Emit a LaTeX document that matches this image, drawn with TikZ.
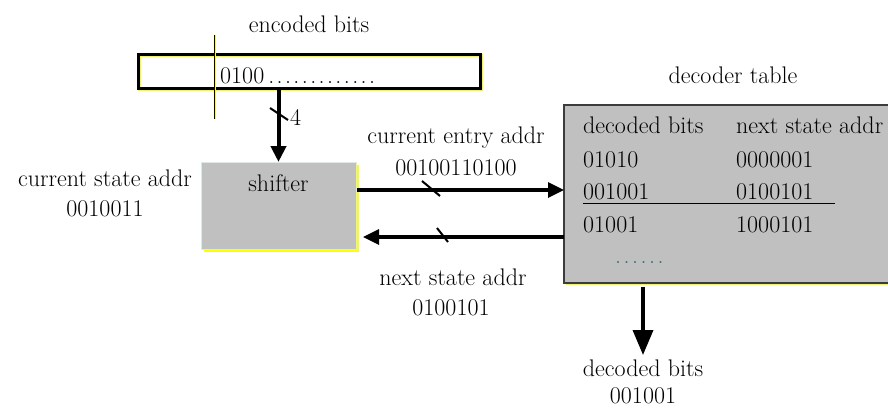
\documentclass[tikz,border=0pt]{standalone}
\usetikzlibrary{arrows.meta}

\definecolor{boxgray}{RGB}{192,192,192}
\definecolor{edgeyellow}{RGB}{255,255,0}
\definecolor{tableedge}{RGB}{60,60,60}
\definecolor{dotteal}{RGB}{40,110,130}

% a row of widely spaced dots
\newcommand{\spreaddots}[2]{\foreach \d in {1,...,#1}{.\hspace{#2}}}

\tikzset{
	lbl/.style={font=\rmfamily\fontsize{24}{29}\selectfont, inner sep=0pt, anchor=base},
	bus/.style={line width=3.3pt, -{Triangle[length=16pt,width=15pt]}},
	tick/.style={line width=2pt},
	yshadow/.style={preaction={fill=edgeyellow, transform canvas={shift={(#1,-#1)}}}},
}

\begin{document}
\begin{tikzpicture}[x=1pt,y=-1pt]
	\useasboundingbox (0,0) rectangle (888,407);

	% bit buffer with the read pointer
	\node[lbl] (enclbl) at (309,32) {encoded bits};
	\draw[edgeyellow, line width=3pt] (139,55) rectangle (481,89);
	\node[draw, line width=3pt, minimum width=342pt, minimum height=34pt, inner sep=0pt, outer sep=0pt] (buffer) at (309,71) {};
	\draw[edgeyellow, line width=1pt] (215.2,35)--(215.2,119);
	\draw[line width=1pt] (214,35)--(214,119);
	\node[lbl, anchor=base west] (bitstream) at (220,83) {0100\hspace{4pt}\spreaddots{13}{2.4pt}};

	% shifter
	\node[fill=boxgray, draw={rgb,255:red,215;green,235;blue,235}, line width=0.8pt, yshadow=2.5pt,
		minimum width=155pt, minimum height=87pt, inner sep=0pt, outer sep=0pt] (shifter) at (278.5,205.5) {};
	\node[lbl] (shiftlbl) at (278.5,191) {shifter};
	\node[lbl] (curlbl) at (105,186) {current state addr};
	\node[lbl] (curval) at (105,216) {0010011};

	\draw[bus, line width=4pt] (shifter.north |- buffer.south) -- (shifter.north);
	\draw[tick] (270,108)--(288,120);
	\node[lbl, anchor=base west] (width) at (290,125) {4};

	% decoder table
	\node[lbl] (tbllbl) at (733,83) {decoder table};
	\node[fill=boxgray, yshadow=2pt, minimum width=324pt, minimum height=178pt,
		inner sep=0pt, outer sep=0pt] (table) at (726,194) {};
	\draw[tableedge, line width=1.8pt] (table.north east) -- (table.north west) -- (table.south west) -- (table.south east);

	\node[lbl, anchor=base west] (bits1) at (583,133) {decoded bits};
	\node[lbl, anchor=base west] (addr1) at (736,133) {next state addr};
	\node[lbl, anchor=base west] (bits2) at (583,167) {01010};
	\node[lbl, anchor=base west] (addr2) at (736,167) {0000001};
	\node[lbl, anchor=base west] (bits3) at (583,199) {001001};
	\node[lbl, anchor=base west] (addr3) at (736,199) {0100101};
	\node[lbl, anchor=base west] (bits4) at (583,232) {01001};
	\node[lbl, anchor=base west] (addr4) at (736,232) {1000101};
	\draw[line width=1.5pt] (583,203.5)--(835,203.5);
	\node[lbl, anchor=base west, text=dotteal] (more) at (615,263) {\spreaddots{6}{2.5pt}};

	% entry address out, next state back
	\coordinate (fwd) at (357,190);
	\draw[bus] (fwd) -- (fwd -| table.west);
	\draw[tick] (422,181)--(440,196);
	\node[lbl] (entrylbl) at (456,143) {current entry addr};
	\node[lbl] (entryval) at (456,175) {00100110100};

	\coordinate (back) at (table.west |- 0,237);
	\draw[bus, shorten >=7pt] (back) -- (back -| shifter.east);
	\draw[tick] (437,228)--(448,242);
	\node[lbl] (nextlbl) at (453,285) {next state addr};
	\node[lbl] (nextval) at (451,315) {0100101};

	% decoded output
	\coordinate (out) at (643,287);
	\coordinate (outtip) at (643,355);
	\draw[line width=3.5pt, -{Triangle[length=25pt,width=20pt]}] (out) -- (outtip);
	\node[lbl] (outlbl) at (643,376) {decoded bits};
	\node[lbl] (outval) at (643,403) {001001};
\end{tikzpicture}
\end{document}
